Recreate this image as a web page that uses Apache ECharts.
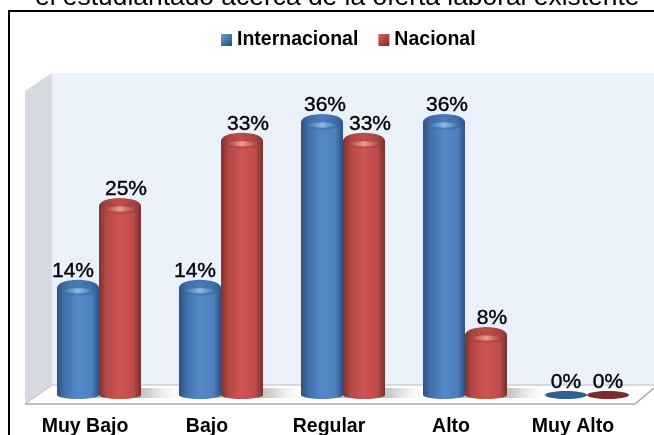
<!DOCTYPE html>
<html>
<head>
<meta charset="utf-8">
<style>
  html, body { margin: 0; padding: 0; background: #fff; }
  #chart { width: 654px; height: 435px; }
</style>
<script src="https://cdn.jsdelivr.net/npm/echarts@6/dist/echarts.min.js"></script>
</head>
<body>
<div id="chart"></div>
<script>
// Data
const categories = ['Muy Bajo', 'Bajo', 'Regular', 'Alto', 'Muy Alto'];
const internacional = [14.3, 14.3, 36.4, 36.4, 0];
const nacional = [25.2, 33.9, 33.9, 8, 0];

const fontName = '"Liberation Sans", Arial, sans-serif';
const barWidth = 42;
const capRy = 8;

const blue = {
    body: ['#2c5180', '#4170aa', '#5589c9', '#4d80bf', '#2c5180'],
    cap: ['#2f5786', '#3f6ea6', '#4a7cb9', '#3f6ea6', '#2f5786'],
    glow: '#8fb8ea',
    flat: '#2f5f93'
};
const red = {
    body: ['#7f312e', '#b54845', '#cf5553', '#bd4b49', '#76302d'],
    cap: ['#823431', '#a84542', '#bd4d4a', '#a84542', '#823431'],
    glow: '#f09a8e',
    flat: '#7c2a2a'
};

function hGradient(stops) {
    const offsets = [0, 0.18, 0.5, 0.82, 1];
    return {
        type: 'linear', x: 0, y: 0, x2: 1, y2: 0,
        colorStops: stops.map((c, i) => ({ offset: offsets[i], color: c }))
    };
}

// the labels in the picture do not sit exactly over their bars
function labelShift(val, side) {
    if (val === 0) return 0;
    if (side > 0) return 6;
    return val < 20 ? -5 : 3;
}

// One cylinder per data item, dodged left or right of the category centre
function cylinder(palette, side) {
    return function (params, api) {
        const base = api.coord([api.value(0), 0]);
        const top = api.coord([api.value(0), api.value(1)]);
        const cx = base[0] + side * barWidth / 2;
        const left = cx - barWidth / 2;
        const children = [];
        const val = api.value(1);

        if (val === 0) {
            children.push({
                type: 'ellipse',
                shape: { cx: cx, cy: base[1], rx: barWidth / 2, ry: 4 },
                style: { fill: palette.flat }
            });
        } else {
            const body = hGradient(palette.body);
            // shadow on the floor
            children.push({
                type: 'rect',
                shape: { x: cx, y: base[1] - 7, width: barWidth / 2 + 38, height: 10 },
                style: {
                    fill: {
                        type: 'linear', x: 0, y: 0, x2: 1, y2: 0,
                        colorStops: [
                            { offset: 0, color: 'rgba(140,140,140,0.75)' },
                            { offset: 0.45, color: 'rgba(160,160,160,0.55)' },
                            { offset: 1, color: 'rgba(220,220,220,0)' }
                        ]
                    }
                }
            });
            children.push({
                type: 'ellipse',
                shape: { cx: cx, cy: base[1], rx: barWidth / 2, ry: 4 },
                style: { fill: body }
            });
            children.push({
                type: 'rect',
                shape: { x: left, y: top[1], width: barWidth, height: base[1] - top[1] },
                style: { fill: body }
            });
            // cap, then a soft highlight low on the cap
            children.push({
                type: 'ellipse',
                shape: { cx: cx, cy: top[1], rx: barWidth / 2, ry: capRy },
                style: { fill: hGradient(palette.cap) }
            });
            children.push({
                type: 'ellipse',
                shape: { cx: cx, cy: top[1] + 3, rx: barWidth / 2 - 6, ry: 2.5 },
                style: {
                    fill: {
                        type: 'linear', x: 0, y: 0, x2: 1, y2: 0,
                        colorStops: [
                            { offset: 0, color: palette.cap[1] },
                            { offset: 0.5, color: palette.glow },
                            { offset: 1, color: palette.cap[1] }
                        ]
                    }
                }
            });
        }

        children.push({
            type: 'text',
            z2: 10,
            style: {
                text: Math.floor(val) + '%',
                x: cx + labelShift(val, side),
                y: top[1] - (val === 0 ? 2 : capRy - 2),
                align: 'center',
                verticalAlign: 'bottom',
                fill: '#000',
                font: '21px ' + fontName,
                stroke: '#000',
                lineWidth: 0.4
            }
        });
        return { type: 'group', children: children };
    };
}

const chart = echarts.init(document.getElementById('chart'));

const option = {
    animation: false,
    grid: { left: 38, width: 610, top: 95, height: 300, outerBoundsMode: 'none' },
    title: {
        text: 'el estudiantado acerca de la oferta laboral existente',
        left: 30, top: -20,
        textStyle: { fontFamily: fontName, fontSize: 26.4, fontWeight: 'normal', color: '#000' }
    },
    legend: {
        top: 25,
        left: 216,
        itemWidth: 11,
        itemHeight: 12,
        itemGap: 20,
        icon: 'rect',
        textStyle: { fontFamily: fontName, fontSize: 19.5, color: '#000', fontWeight: 'bold' },
        data: ['Internacional', 'Nacional']
    },
    xAxis: {
        type: 'category',
        data: categories,
        axisLine: { show: false },
        axisTick: { show: false },
        axisLabel: {
            color: '#000',
            fontFamily: fontName,
            fontWeight: 'bold',
            fontSize: 19.5,
            margin: 22,
            padding: [0, 28, 0, 0]
        }
    },
    yAxis: { type: 'value', min: 0, max: 40, show: false },
    graphic: [
        // plot frame and fake 3d walls
        { type: 'rect', z: 0, shape: { x: 52, y: 73, width: 602, height: 312 }, style: { fill: '#eaf1fa' } },
        { type: 'polygon', z: 0, shape: { points: [[25, 91], [52, 73], [52, 385], [25, 404]] }, style: { fill: '#d7dbe1' } },
        { type: 'polygon', z: 0, shape: { points: [[25, 404], [52, 385], [654, 385], [635, 404]] }, style: { fill: '#fff' } },
        { type: 'polyline', z: 1, shape: { points: [[25, 404], [52, 385], [654, 385]] }, style: { fill: 'none', stroke: '#bcbcbc', lineWidth: 1 } },
        { type: 'polyline', z: 1, shape: { points: [[25, 404], [635, 404], [654, 388]] }, style: { fill: 'none', stroke: '#a9a9a9', lineWidth: 1.5 } },
        // only the top and left of the outer frame show in the picture
        { type: 'polyline', z: 1, shape: { points: [[9, 435], [9, 11], [654, 11]] }, style: { fill: 'none', stroke: '#000', lineWidth: 2 } }
    ],
    series: [
        {
            name: 'Internacional',
            type: 'custom',
            renderItem: cylinder(blue, -1),
            encode: { x: 0, y: 1 },
            itemStyle: {
                color: { type: 'linear', x: 0, y: 0, x2: 1, y2: 1, colorStops: [{ offset: 0, color: '#6f9fd8' }, { offset: 1, color: '#264a78' }] }
            },
            data: categories.map((c, i) => [i, internacional[i]])
        },
        {
            name: 'Nacional',
            type: 'custom',
            renderItem: cylinder(red, 1),
            encode: { x: 0, y: 1 },
            itemStyle: {
                color: { type: 'linear', x: 0, y: 0, x2: 1, y2: 1, colorStops: [{ offset: 0, color: '#d9675f' }, { offset: 1, color: '#7c2a2a' }] }
            },
            data: categories.map((c, i) => [i, nacional[i]])
        }
    ]
};
chart.setOption(option);
</script>
</body>
</html>
